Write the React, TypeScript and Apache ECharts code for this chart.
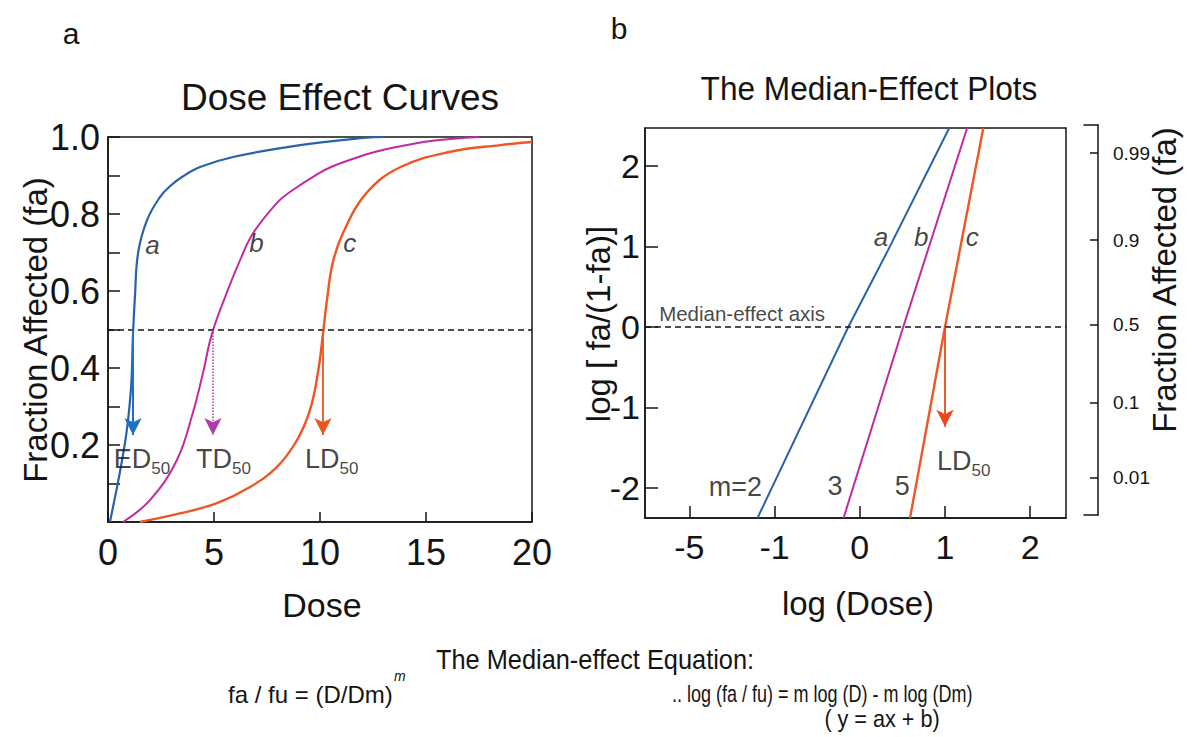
import React, { useEffect, useRef } from 'react';
import * as echarts from 'echarts';

// ---- Panel a: dose-effect curves ----
const doseA = [0.09, 0.8, 1.08, 1.18, 1.27, 1.42, 1.84, 2.45, 2.92, 3.54, 4.34, 5.9, 9.06, 12.2, 13.0];
const faA = [0, 0.205, 0.343, 0.488, 0.584, 0.699, 0.784, 0.844, 0.872, 0.898, 0.922, 0.948, 0.979, 0.998, 1.0];

const doseB = [0.71, 1.98, 3.25, 4.0, 4.48, 4.9, 5.6, 6.23, 6.84, 7.97, 8.58, 9.86, 10.6, 12.2, 13.0, 15.3, 17.5];
const faB = [0, 0.057, 0.161, 0.283, 0.387, 0.488, 0.595, 0.68, 0.75, 0.829, 0.857, 0.903, 0.924, 0.955, 0.967, 0.99, 1.0];

const doseC = [1.5, 3.44, 5.14, 6.7, 7.97, 8.92, 9.53, 9.9, 10.14, 10.33, 10.6, 11.08, 12.2, 13.8, 16.1, 18.5, 20];
const faC = [0, 0.023, 0.049, 0.091, 0.143, 0.213, 0.291, 0.387, 0.488, 0.577, 0.673, 0.75, 0.855, 0.922, 0.961, 0.979, 0.987];

const ED50 = 1.18;
const TD50 = 4.95;
const LD50 = 10.14;
const arrowTipFa = 0.226;

// ---- Panel b: median-effect plots ----
const logDA = [-1.2, -0.135, 0.32, 1.05];
const logYA = [-2.373, 0, 0.93, 2.472];
const logDB = [-0.19, 0.51, 1.26];
const logYB = [-2.373, 0, 2.472];
const logDC = [0.59, 1.0, 1.45];
const logYC = [-2.373, 0, 2.472];
const logLD50 = 1.0;
const logArrowTip = -1.24;

const xTickValsB = [-2, -1, 0, 1, 2];
const xTickLabelsB = ['-5', '-1', '0', '1', '2'];
const yTickValsB = [-2, -1, 0, 1, 2];
const yTickLabelsB = ['-2', '-1', '0', '1', '2'];

const faTickPos = [2.13, 1.05, 0, -0.97, -1.9];
const faTickLabels = ['0.99', '0.9', '0.5', '0.1', '0.01'];

const FONT = "'Liberation Sans', Arial, Helvetica, sans-serif";
const INK = '#141414';
const BLUE = '#2762aa';
const MAGENTA = '#c22aa4';
const ORANGE = '#f05624';

const pairs = (xs: number[], ys: number[]) => xs.map((x, i) => [x, ys[i]]);

const subRich = {
  m: { fontSize: 27, lineHeight: 30, verticalAlign: 'top', color: INK, fontFamily: FONT },
  s: { fontSize: 17, lineHeight: 18, padding: [15, 0, 0, 0], verticalAlign: 'top', color: INK, fontFamily: FONT },
};

const axisLineStyle = { color: INK, width: 1.5 };

const txt = (text: string, x: number, y: number, fontSize: number, extra: any = {}, styleExtra: any = {}) => ({
  type: 'text', x, y, ...extra,
  style: { text, fontSize, fontFamily: FONT, fill: INK, align: 'center', verticalAlign: 'middle', ...styleExtra },
});

export default function App() {
  const ref = useRef<HTMLDivElement>(null);
  useEffect(() => {
    document.body.style.margin = '0';
    if (!ref.current) return;
    const chart = echarts.init(ref.current, undefined, { renderer: 'svg' });

    const italicLbl = (name: string, x: number, y: number) => ({
      name,
      value: [x, y],
      label: { show: true, position: 'inside', formatter: name, fontSize: 26, fontStyle: 'italic', color: INK, fontFamily: FONT },
    });
    const plainLbl = (name: string, x: number, y: number, size = 27) => ({
      name,
      value: [x, y],
      label: { show: true, position: 'inside', formatter: name, fontSize: size, color: INK, fontFamily: FONT },
    });
    const subLbl = (main: string, x: number, y: number) => ({
      name: main,
      value: [x, y],
      label: { show: true, position: 'inside', formatter: `{m|${main}}{s|50}`, rich: subRich },
    });

    const option: any = {
      animation: false,
      backgroundColor: '#ffffff',
      textStyle: { fontFamily: FONT, color: INK },
      grid: [
        { left: 108, top: 137, width: 424, height: 385, show: true, borderColor: INK, borderWidth: 1.5, backgroundColor: 'transparent' },
        { left: 645, top: 128, width: 421, height: 390, show: true, borderColor: INK, borderWidth: 1.5, backgroundColor: 'transparent' },
        { left: 1084, top: 125, width: 14, height: 390 },
      ],
      xAxis: [
        {
          gridIndex: 0, type: 'value', min: 0, max: 20, interval: 5,
          axisLine: { onZero: false, lineStyle: axisLineStyle },
          axisTick: { inside: true, length: 10, lineStyle: axisLineStyle },
          axisLabel: { fontSize: 36, color: INK, margin: 12, fontFamily: FONT },
          splitLine: { show: false },
        },
        {
          gridIndex: 1, type: 'value', min: -2.52, max: 2.42,
          axisLine: { onZero: false, lineStyle: axisLineStyle },
          axisTick: { inside: true, length: 12, customValues: xTickValsB, lineStyle: axisLineStyle },
          axisLabel: {
            fontSize: 34, color: INK, margin: 12, fontFamily: FONT, customValues: xTickValsB,
            formatter: (v: number) => { const i = xTickValsB.findIndex((t) => Math.abs(t - v) < 1e-6); return i >= 0 ? xTickLabelsB[i] : ''; },
          },
          splitLine: { show: false },
        },
        {
          gridIndex: 2, type: 'value', min: 0, max: 1, position: 'top',
          axisLine: { show: true, onZero: false, lineStyle: axisLineStyle },
          axisTick: { show: false }, axisLabel: { show: false }, splitLine: { show: false },
        },
        {
          gridIndex: 2, type: 'value', min: 0, max: 1, position: 'bottom',
          axisLine: { show: true, onZero: false, lineStyle: axisLineStyle },
          axisTick: { show: false }, axisLabel: { show: false }, splitLine: { show: false },
        },
      ],
      yAxis: [
        {
          gridIndex: 0, type: 'value', min: 0, max: 1, interval: 0.1,
          axisLine: { onZero: false, lineStyle: axisLineStyle },
          axisTick: { inside: true, length: 12, lineStyle: axisLineStyle },
          axisLabel: {
            fontSize: 36, color: INK, margin: 8, fontFamily: FONT,
            formatter: (v: number) => { const k = Math.round(v * 10); return k > 0 && k % 2 === 0 ? (k / 10).toFixed(1) : ''; },
          },
          splitLine: { show: false },
        },
        {
          gridIndex: 1, type: 'value', min: -2.373, max: 2.472,
          axisLine: { onZero: false, lineStyle: axisLineStyle },
          axisTick: { inside: true, length: 13, customValues: yTickValsB, lineStyle: axisLineStyle },
          axisLabel: {
            fontSize: 34, color: INK, margin: 5, fontFamily: FONT, customValues: yTickValsB,
            formatter: (v: number) => { const i = yTickValsB.findIndex((t) => Math.abs(t - v) < 1e-6); return i >= 0 ? yTickLabelsB[i] : ''; },
          },
          splitLine: { show: false },
        },
        {
          gridIndex: 2, type: 'value', min: -2.36, max: 2.48, position: 'right',
          axisLine: { show: true, onZero: false, lineStyle: axisLineStyle },
          axisTick: { show: true, inside: true, length: 8, customValues: faTickPos, lineStyle: axisLineStyle },
          axisLabel: {
            fontSize: 19, color: INK, margin: 15, fontFamily: FONT, customValues: faTickPos,
            formatter: (v: number) => { const i = faTickPos.findIndex((t) => Math.abs(t - v) < 1e-6); return i >= 0 ? faTickLabels[i] : ''; },
          },
          splitLine: { show: false },
        },
      ],
      series: [
        {
          name: 'a', type: 'line', xAxisIndex: 0, yAxisIndex: 0, data: pairs(doseA, faA),
          showSymbol: false, symbol: 'none', smooth: 0.4,
          lineStyle: { color: BLUE, width: 2.2 }, z: 3,
          markLine: {
            silent: true, animation: false, label: { show: false },
            data: [
              [{ coord: [0, 0.5], symbol: 'none', lineStyle: { color: INK, width: 1.5, type: [6, 4] } }, { coord: [20, 0.5], symbol: 'none' }],
              [{ coord: [ED50, 0.5], symbol: 'none', lineStyle: { color: '#1f6fc4', width: 2, type: 'solid' } }, { coord: [ED50, arrowTipFa], symbol: 'arrow', symbolSize: [13, 17] }],
            ],
          },
        },
        {
          name: 'b', type: 'line', xAxisIndex: 0, yAxisIndex: 0, data: pairs(doseB, faB),
          showSymbol: false, symbol: 'none', smooth: 0.4,
          lineStyle: { color: MAGENTA, width: 2 }, z: 3,
          markLine: {
            silent: true, animation: false, label: { show: false },
            data: [
              [{ coord: [TD50, 0.5], symbol: 'none', lineStyle: { color: '#b03aa8', width: 1.5, type: 'dotted' } }, { coord: [TD50, arrowTipFa], symbol: 'arrow', symbolSize: [13, 17], itemStyle: { color: '#e8208e' } }],
            ],
          },
        },
        {
          name: 'c', type: 'line', xAxisIndex: 0, yAxisIndex: 0, data: pairs(doseC, faC),
          showSymbol: false, symbol: 'none', smooth: 0.4,
          lineStyle: { color: ORANGE, width: 2.4 }, z: 3,
          markLine: {
            silent: true, animation: false, label: { show: false },
            data: [
              [{ coord: [LD50, 0.5], symbol: 'none', lineStyle: { color: '#e8581c', width: 1.8, type: 'solid' } }, { coord: [LD50, arrowTipFa], symbol: 'arrow', symbolSize: [13, 17], itemStyle: { color: '#f0401e' } }],
            ],
          },
        },
        {
          name: 'a-log', type: 'line', xAxisIndex: 1, yAxisIndex: 1, data: pairs(logDA, logYA),
          showSymbol: false, symbol: 'none', lineStyle: { color: BLUE, width: 2 }, z: 3,
          markLine: {
            silent: true, animation: false, label: { show: false }, symbol: 'none',
            data: [[{ coord: [-2.52, 0], lineStyle: { color: INK, width: 1.5, type: [6, 4] } }, { coord: [2.42, 0] }]],
          },
        },
        {
          name: 'b-log', type: 'line', xAxisIndex: 1, yAxisIndex: 1, data: pairs(logDB, logYB),
          showSymbol: false, symbol: 'none', lineStyle: { color: MAGENTA, width: 2 }, z: 3,
        },
        {
          name: 'c-log', type: 'line', xAxisIndex: 1, yAxisIndex: 1, data: pairs(logDC, logYC),
          showSymbol: false, symbol: 'none', lineStyle: { color: ORANGE, width: 2.4 }, z: 3,
          markLine: {
            silent: true, animation: false, label: { show: false },
            data: [
              [{ coord: [logLD50, 0], symbol: 'none', lineStyle: { color: '#ec4a1e', width: 1.8, type: 'solid' } }, { coord: [logLD50, logArrowTip], symbol: 'arrow', symbolSize: [13, 17], itemStyle: { color: '#f0401e' } }],
            ],
          },
        },
        {
          name: 'labels-a', type: 'scatter', xAxisIndex: 0, yAxisIndex: 0, symbolSize: 1,
          itemStyle: { color: 'rgba(0,0,0,0)' }, silent: true, z: 5,
          data: [
            italicLbl('a', 2.1, 0.72),
            italicLbl('b', 7.0, 0.725),
            italicLbl('c', 11.4, 0.725),
            subLbl('ED', 1.6, 0.16),
            subLbl('TD', 5.45, 0.16),
            subLbl('LD', 10.55, 0.16),
          ],
        },
        {
          name: 'labels-b', type: 'scatter', xAxisIndex: 1, yAxisIndex: 1, symbolSize: 1,
          itemStyle: { color: 'rgba(0,0,0,0)' }, silent: true, z: 5,
          data: [
            italicLbl('a', 0.25, 1.12),
            italicLbl('b', 0.72, 1.12),
            italicLbl('c', 1.32, 1.12),
            plainLbl('m=2', -1.46, -1.99),
            plainLbl('3', -0.29, -1.97),
            plainLbl('5', 0.5, -1.97),
            subLbl('LD', 1.22, -1.68),
            {
              name: 'Median-effect axis', value: [-2.36, 0.17],
              label: { show: true, position: 'right', distance: 0, formatter: 'Median-effect axis', fontSize: 20.5, color: INK, fontFamily: FONT },
            },
          ],
        },
      ],
      graphic: [
        txt('a', 71, 33, 30),
        txt('b', 619, 28, 30),
        txt('Dose Effect Curves', 340, 97, 37),
        txt('The Median-Effect Plots', 869, 88, 34, { scaleX: 0.93 }),
        txt('Fraction Affected (fa)', 35, 330, 33, { rotation: Math.PI / 2 }),
        txt('Dose', 322, 605, 34),
        txt('log [ fa/(1-fa)]', 598, 324, 33, { rotation: Math.PI / 2 }),
        txt('log (Dose)', 858, 603, 33),
        txt('Fraction Affected (fa)', 1164, 280, 33, { rotation: Math.PI / 2 }),
        txt('The Median-effect Equation:', 595, 660, 27, { scaleX: 0.94 }),
        txt('fa / fu = (D/Dm)', 228, 694, 24, {}, { align: 'left' }),
        txt('m', 394, 676, 14, {}, { align: 'left', fontStyle: 'italic' }),
        txt('.. log (fa / fu) = m log (D) - m log (Dm)', 672, 694, 24, { scaleX: 0.75 }, { align: 'left' }),
        txt('( y = ax + b)', 882, 719, 24, { scaleX: 0.9 }),
      ],
    };

    chart.setOption(option);
    return () => chart.dispose();
  }, []);

  return <div ref={ref} style={{ width: 1192, height: 737 }} />;
}
